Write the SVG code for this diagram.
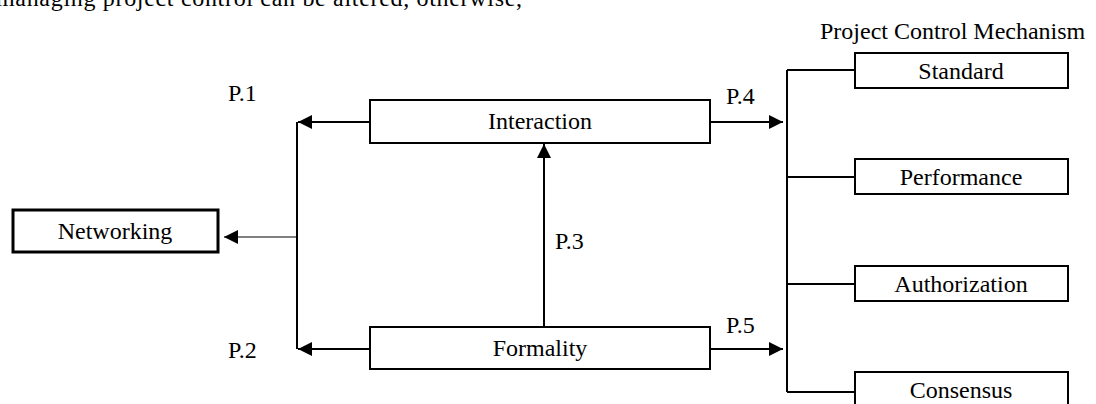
<svg xmlns="http://www.w3.org/2000/svg" width="1096" height="404" viewBox="0 0 1096 404">
<style>
  text { font-family: "Liberation Serif", "Times New Roman", serif; font-size: 24px; fill: #000; }
  .lbl { text-anchor: middle; }
  .box { fill: #fff; stroke: #000; stroke-width: 2; }
  .box2 { fill: #fff; stroke: #000; stroke-width: 3; }
  .ln { fill: none; stroke: #000; stroke-width: 2; }
  .thin { fill: none; stroke: #000; stroke-width: 1; }
</style>
<defs>
  <marker id="ah" markerUnits="userSpaceOnUse" markerWidth="15" markerHeight="15" refX="14" refY="7" orient="auto">
    <path d="M0,0 L14,7 L0,14 Z" fill="#000"/>
  </marker>
</defs>
<rect width="1096" height="404" fill="#fff"/>
<text x="-4" y="6" textLength="526" lengthAdjust="spacing">managing project control can be altered, otherwise,</text>
<text x="820" y="39">Project Control Mechanism</text>

<g id="connectors">
  <path class="ln" d="M370,122 H298" marker-end="url(#ah)"/>
  <path class="ln" d="M370,349 H298" marker-end="url(#ah)"/>
  <path class="ln" d="M297,122 V349"/>
  <path class="thin" d="M297,237 H224" marker-end="url(#ah)"/>
  <path class="ln" d="M544,327 V144" marker-end="url(#ah)"/>
  <path class="ln" d="M710,122 H783" marker-end="url(#ah)"/>
  <path class="ln" d="M710,349 H783" marker-end="url(#ah)"/>
  <path class="ln" d="M787,70 V392"/>
  <path class="ln" d="M787,70 H855 M787,177 H855 M787,284 H855 M787,392 H855"/>
  <text x="228" y="101">P.1</text>
  <text x="228" y="358">P.2</text>
  <text x="555" y="249">P.3</text>
  <text x="726" y="104">P.4</text>
  <text x="726" y="333">P.5</text>
</g>

<g id="networking">
  <rect class="box2" x="13" y="210" width="205" height="42"/>
  <text class="lbl" x="115" y="239">Networking</text>
</g>
<g id="interaction">
  <rect class="box" x="370" y="100" width="340" height="43"/>
  <text class="lbl" x="540" y="129">Interaction</text>
</g>
<g id="formality">
  <rect class="box" x="370" y="327" width="340" height="42"/>
  <text class="lbl" x="540" y="356">Formality</text>
</g>
<g id="standard">
  <rect class="box" x="855" y="53" width="213" height="35"/>
  <text class="lbl" x="961" y="79">Standard</text>
</g>
<g id="performance">
  <rect class="box" x="855" y="159" width="213" height="35"/>
  <text class="lbl" x="961" y="185">Performance</text>
</g>
<g id="authorization">
  <rect class="box" x="855" y="266" width="213" height="35"/>
  <text class="lbl" x="961" y="292">Authorization</text>
</g>
<g id="consensus">
  <rect class="box" x="855" y="372" width="213" height="40"/>
  <text class="lbl" x="961" y="398">Consensus</text>
</g>
</svg>
